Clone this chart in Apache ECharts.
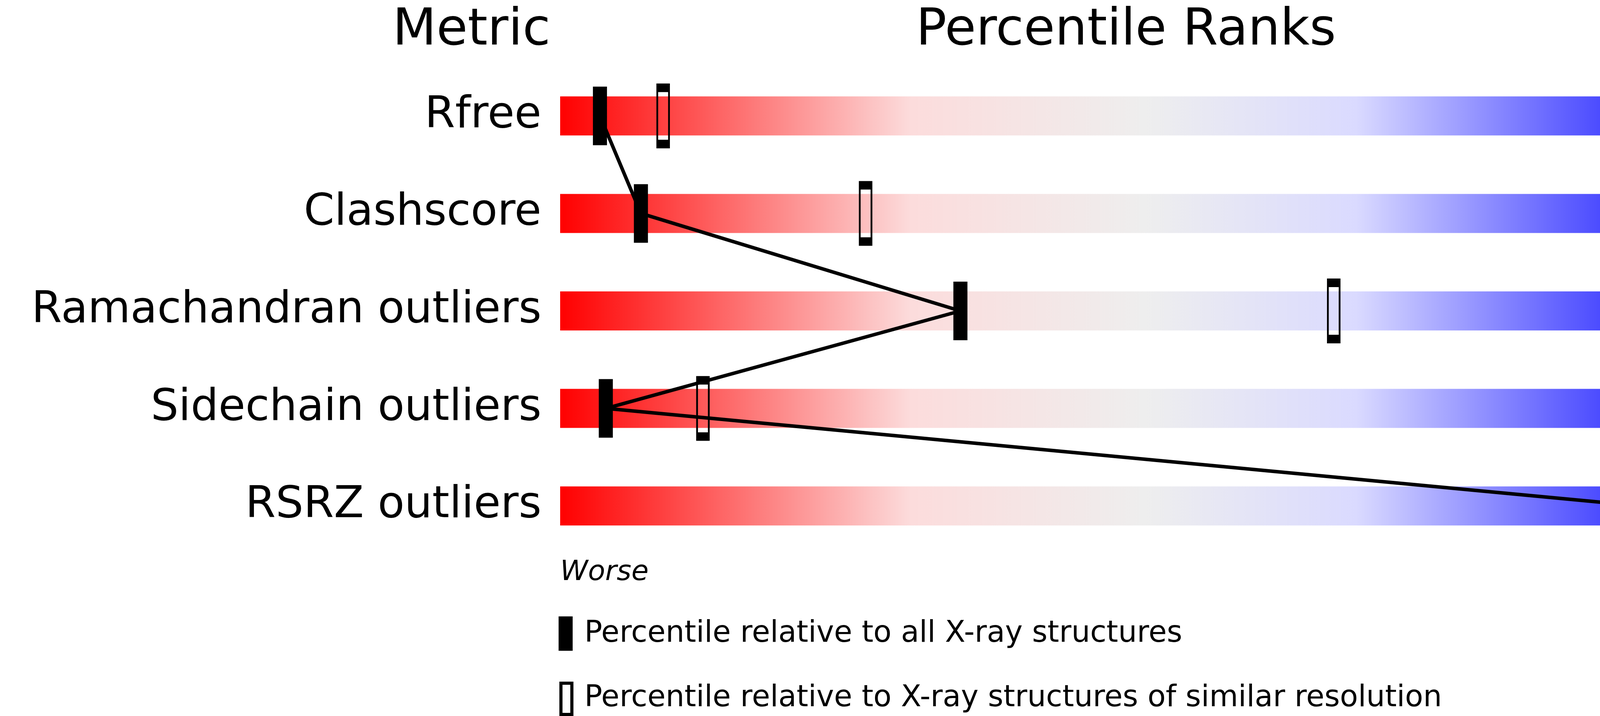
<!DOCTYPE html>
<html><head><meta charset="utf-8">
<script src="https://cdn.jsdelivr.net/npm/echarts@6/dist/echarts.min.js"></script>
<style>html,body{margin:0;padding:0;background:#fff}#c{width:4858px;height:1833px}</style>
</head><body><div id="c"></div>
<script>
const metrics = ['Rfree','Clashscore','Ramachandran outliers','Sidechain outliers','RSRZ outliers'];
const valueLabels = ['0.311','23','0.4%','13.1%','0.4%'];
const pctAll = [3.4, 6.9, 34.2, 3.9, 92.3];
const pctSimilar = [8.8, 26.1, 66.1, 12.2, 92.6];

const chart = echarts.init(document.getElementById('c'));
const F = 'DejaVu Sans';
const grad = new echarts.graphic.LinearGradient(0,0,1,0,[
  {offset:0,color:'#ff0000'},{offset:0.3,color:'#fcdcdc'},{offset:0.5,color:'#eeeeee'},
  {offset:0.68,color:'#dadaff'},{offset:1,color:'#0000ff'}]);
chart.setOption({
  animation:false,
  grid:{left:1434,right:428,top:172,bottom:413},
  xAxis:{type:'value',min:0,max:100,show:false},
  yAxis:[
    {type:'category',data:metrics,inverse:true,axisLine:{show:false},axisTick:{show:false},
     axisLabel:{fontFamily:F,fontSize:112,color:'#000',margin:48}},
    {type:'category',data:valueLabels,inverse:true,position:'right',axisLine:{show:false},axisTick:{show:false},
     axisLabel:{fontFamily:F,fontSize:112,color:'#000',margin:56,align:'left'}}
  ],
  graphic:[
    {type:'text',left:1005,top:15,style:{text:'Metric',font:'130px "DejaVu Sans"',fill:'#000'}},
    {type:'text',left:2345,top:15,style:{text:'Percentile Ranks',font:'130px "DejaVu Sans"',fill:'#000'}},
    {type:'text',left:4432,top:15,style:{text:'Value',font:'130px "DejaVu Sans"',fill:'#000'}},
    {type:'text',left:1434,top:1430,style:{text:'Worse',font:'italic 72px "DejaVu Sans"',fill:'#000'}},
    {type:'text',right:428,top:1430,style:{text:'Better',font:'italic 72px "DejaVu Sans"',fill:'#000'}},
    {type:'rect',left:1430,top:1578,shape:{width:36,height:88},style:{fill:'#000'}},
    {type:'text',left:1496,top:1585,style:{text:'Percentile relative to all X-ray structures',font:'76px "DejaVu Sans"',fill:'#000'}},
    {type:'rect',left:1432,top:1745,shape:{width:28,height:80},style:{fill:'none',stroke:'#000',lineWidth:8}},
    {type:'text',left:1496,top:1750,style:{text:'Percentile relative to X-ray structures of similar resolution',font:'76px "DejaVu Sans"',fill:'#000'}}
  ],
  series:[
    {type:'custom',data:metrics.map((m,i)=>[i]),
     renderItem:function(p,api){
       const a=api.coord([0,api.value(0)]),b=api.coord([100,api.value(0)]);
       return {type:'rect',shape:{x:a[0],y:a[1]-50,width:b[0]-a[0],height:100},style:{fill:grad}};
     },z:1},
    {type:'line',data:pctAll.map((v,i)=>[v,i]),symbol:'none',lineStyle:{color:'#000',width:9,opacity:1},z:2},
    {type:'scatter',data:pctSimilar.map((v,i)=>[v,i]),symbol:'rect',symbolSize:[30,144],
     itemStyle:{color:'rgba(0,0,0,0)',borderColor:'#000',borderWidth:10,opacity:1},z:3},
    {type:'scatter',data:pctAll.map((v,i)=>[v,i]),symbol:'rect',symbolSize:[36,150],
     itemStyle:{color:'#000',opacity:1},z:4}
  ]
});
</script></body></html>
